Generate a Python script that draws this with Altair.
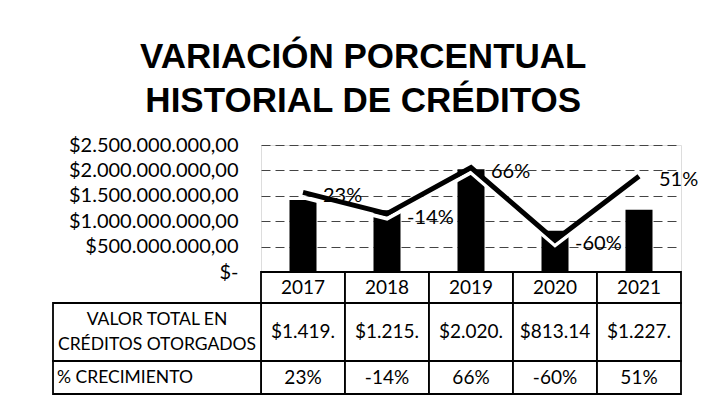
import altair as alt
import pandas as pd

# ---- data ----
years = ["2017", "2018", "2019", "2020", "2021"]
valores = [1419500000, 1215300000, 2020400000, 813145000, 1227600000]
crecimiento = [0.23, -0.14, 0.66, -0.60, 0.51]
y_ticks = [0, 500000000, 1000000000, 1500000000, 2000000000, 2500000000]
row_labels = ["VALOR TOTAL EN\nCRÉDITOS OTORGADOS", "% CRECIMIENTO"]
title_lines = ["VARIACIÓN PORCENTUAL", "HISTORIAL DE CRÉDITOS"]

# ---- layout (pixels) ----
PLOT_W, PLOT_H = 420, 127
ROW_H = [31, 58, 33]          # data-table row heights
LABEL_COL_W = 208             # width of the row-label column
FONT = "Lato"


def excel_money(v):
    s = f"{v:,.2f}".replace(",", "_").replace(".", ",").replace("_", ".")
    return ("$" + s)[:7]      # Excel clips the text to the cell width


def pct_text(p):
    return f"{round(p * 100):d}%"


df = pd.DataFrame({
    "year": years,
    "valor": valores,
    "pct": crecimiento,
    "pct_label": [pct_text(p) for p in crecimiento],
})

# table cells (one row per cell)
tops = [PLOT_H, PLOT_H + ROW_H[0], PLOT_H + ROW_H[0] + ROW_H[1]]
cells = []
for y, v, p in zip(years, valores, crecimiento):
    for i, txt in enumerate([y, excel_money(v), pct_text(p)]):
        cells.append({"year": y, "top": tops[i], "bottom": tops[i] + ROW_H[i],
                      "mid": tops[i] + ROW_H[i] / 2, "text": txt})
cells = pd.DataFrame(cells)

labels_df = pd.DataFrame({
    "text": row_labels,
    "top": [tops[1], tops[2]],
    "bottom": [tops[1] + ROW_H[1], tops[2] + ROW_H[2]],
    "mid": [tops[1] + ROW_H[1] / 2, tops[2] + ROW_H[2] / 2],
    "align": ["center", "left"],
})

x_enc = alt.X("year:N", scale=alt.Scale(domain=years, paddingInner=0, paddingOuter=0), axis=None)

label_expr = (
    "datum.value == 0 ? '$-' : '$' + replace(replace(replace(format(datum.value, ',.2f'), "
    "regexp(',', 'g'), '_'), regexp('[.]', 'g'), ','), regexp('_', 'g'), '.')"
)

base = alt.Chart(df)

bars = base.mark_bar(color="black", size=27).encode(
    x=x_enc,
    y=alt.Y("valor:Q", scale=alt.Scale(domain=[0, 2500000000], nice=False),
            axis=alt.Axis(values=y_ticks, labelExpr=label_expr, labelFont=FONT,
                          labelFontSize=20, labelColor="black", labelPadding=23,
                          domain=False, ticks=False, grid=True, gridColor="#444",
                          gridDash=[9, 5], gridWidth=1, title=None)),
)

pct_scale = alt.Scale(domain=[-1.15, 1.05], nice=False, zero=False)

line_shadow = base.mark_line(color="white", strokeWidth=4, yOffset=5).encode(
    x=x_enc, y=alt.Y("pct:Q", scale=pct_scale, axis=None))
line = base.mark_line(color="black", strokeWidth=5).encode(
    x=x_enc, y=alt.Y("pct:Q", scale=pct_scale, axis=None))
line_labels = base.mark_text(align="left", baseline="middle", dx=20, dy=4,
                             font=FONT, fontSize=20, color="black").encode(
    x=x_enc, y=alt.Y("pct:Q", scale=pct_scale, axis=None), text="pct_label:N")

cell_rects = alt.Chart(cells).mark_rect(fill="white", stroke="black", strokeWidth=1.8).encode(
    x=x_enc, y=alt.Y("top:Q", scale=None, axis=None), y2="bottom:Q")
cell_text = alt.Chart(cells).mark_text(font=FONT, fontSize=19, color="black",
                                       baseline="middle").encode(
    x=x_enc, y=alt.Y("mid:Q", scale=None, axis=None), text="text:N")

label_rects = alt.Chart(labels_df).mark_rect(fill="white", stroke="black", strokeWidth=1.8).encode(
    x=alt.value(-LABEL_COL_W), x2=alt.value(0),
    y=alt.Y("top:Q", scale=None, axis=None), y2="bottom:Q")
label_center = alt.Chart(labels_df).transform_filter("datum.align == 'center'").mark_text(
    font=FONT, fontSize=17.5, color="black", align="center", baseline="middle",
    lineBreak="\n", lineHeight=25, dy=-12).encode(
    x=alt.value(-LABEL_COL_W / 2), y=alt.Y("mid:Q", scale=None, axis=None), text="text:N")
label_left = alt.Chart(labels_df).transform_filter("datum.align == 'left'").mark_text(
    font=FONT, fontSize=17.5, color="black", align="left", baseline="middle").encode(
    x=alt.value(-LABEL_COL_W + 4), y=alt.Y("mid:Q", scale=None, axis=None), text="text:N")

chart = alt.layer(
    bars, line_shadow, line, line_labels,
    cell_rects, cell_text, label_rects, label_center, label_left,
).resolve_scale(y="independent").properties(
    width=PLOT_W, height=PLOT_H,
    title=alt.TitleParams(text=title_lines, font="Liberation Sans", fontSize=35,
                          fontWeight="bold", color="black", lineHeight=44,
                          anchor="middle", frame="bounds", offset=16, dx=-12),
    autosize=alt.AutoSizeParams(type="none"),
    padding={"left": 261, "top": 145, "right": 25, "bottom": 132},
).configure_view(stroke=None).configure(background="white")

chart.save("out.html", embed_options={"renderer": "svg", "actions": False})
